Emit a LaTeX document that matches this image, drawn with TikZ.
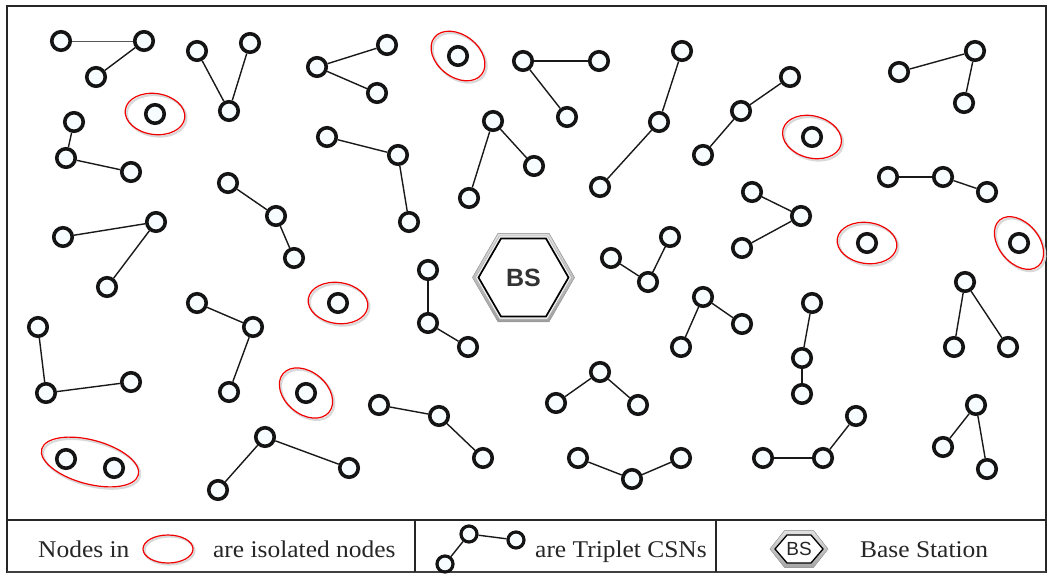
\documentclass[tikz,border=0pt]{standalone}
\usepackage{fontspec}
\setmainfont{Liberation Serif}
\newfontfamily\legfont[FakeStretch=1.06]{Liberation Serif}
\newfontfamily\bsfont{Liberation Sans}
\usetikzlibrary{shapes.geometric,calc}
\begin{document}
\begin{tikzpicture}[x=1pt,y=-1pt,
  sn/.style={circle, draw=black!92, line width=3.6pt, fill=cyan!3!white, minimum size=18.5pt, inner sep=0pt},
  snl/.style={sn, line width=3.2pt, minimum size=16pt},
  lk/.style={line width=1.4pt, black!90},
  lkthin/.style={line width=0.9pt, black!65},
  iso/.style={ellipse, draw=red!95!black, line width=1.2pt, inner sep=0pt},
  isosh/.style={ellipse, draw=black!15, line width=2.2pt, inner sep=0pt},
  legtext/.style={anchor=base west, font=\legfont\fontsize{24}{28}\selectfont, text=black!85, inner sep=0pt}
]
\useasboundingbox (0,0) rectangle (1048,575);
% frame and legend row
\draw[line width=1.1pt, black!85] (7,6) rectangle (1046,572);
\draw[line width=1.1pt, black!85] (7,520) -- (1046,520);
\draw[line width=2.6pt, black!75] (7,572) -- (1046,572);
\draw[line width=1.1pt, black!85] (415,520) -- (415,572);
\draw[line width=1.1pt, black!85] (716,520) -- (716,572);

% isolated nodes with ellipses (shadow first)
\newcommand{\isol}[6]{%
  \node[isosh, minimum width=#4, minimum height=#5, rotate=#6] at ($(#2,#3)+(1.6,1.8)$) {};
  \node[iso, minimum width=#4, minimum height=#5, rotate=#6] (e#1) at (#2,#3) {};
}
\isol{A}{155}{114}{60}{41}{-8}
\isol{B}{458}{56}{60}{42}{-38}
\isol{C}{812}{137}{60}{42}{-15}
\isol{D}{867}{243}{60}{41}{-8}
\isol{E}{1019}{243}{60}{40}{-50}
\isol{F}{338}{303}{60}{41}{-8}
\isol{G}{306}{393}{60}{42}{-40}
\isol{H}{90}{462}{100}{44}{-15}
\node[sn] (iA) at (155,114) {};
\node[sn] (iB) at (458,56) {};
\node[sn] (iC) at (812,137) {};
\node[sn] (iD) at (867,243) {};
\node[sn] (iE) at (1019,243) {};
\node[sn] (iF) at (338,303) {};
\node[sn] (iG) at (306,393) {};
\node[sn] (iH1) at (66,459) {};
\node[sn] (iH2) at (114,468) {};

% triplet CSNs: nodes a, b (hub), c; links a-b and c-b
\newcommand{\trip}[5]{%
  \node[sn] (#1a) at (#2) {};
  \node[sn] (#1b) at (#3) {};
  \node[sn] (#1c) at (#4) {};
  \draw[#5] (#1a) -- (#1b);
  \draw[lk] (#1c) -- (#1b);
}
\trip{A}{61,41}{144,41}{96,77}{lkthin}
\trip{B}{197,51}{229,111}{250,43}{lk}
\trip{C}{387,45}{317,67}{377,93}{lk}
\trip{D}{599,61}{523,61}{567,117}{lk}
\trip{E}{682,51}{659,122}{600,187}{lk}
\trip{F}{790,77}{741,111}{703,155}{lk}
\trip{G}{899,72}{975,51}{964,103}{lk}
\trip{H}{74,122}{66,158}{131,172}{lk}
\trip{I}{327,137}{398,155}{409,222}{lk}
\trip{J}{469,198}{493,121}{534,166}{lk}
\trip{K}{888,177}{943,177}{987,192}{lk}
\trip{L}{228,183}{276,216}{294,258}{lk}
\trip{M}{63,237}{156,222}{107,287}{lk}
\trip{N}{752,192}{801,216}{742,248}{lk}
\trip{O}{611,258}{648,282}{670,237}{lk}
\trip{P}{428,270}{428,323}{468,347}{lk}
\trip{Q}{197,303}{253,327}{229,392}{lk}
\trip{R}{38,327}{46,393}{131,382}{lk}
\trip{S}{681,347}{703,297}{742,324}{lk}
\trip{T}{812,303}{802,358}{802,394}{lk}
\trip{U}{954,347}{965,282}{1008,347}{lk}
\trip{V}{556,403}{600,372}{638,405}{lk}
\trip{W}{379,405}{439,416}{483,458}{lk}
\trip{X}{218,490}{265,437}{349,468}{lk}
\trip{Y}{578,458}{632,479}{681,458}{lk}
\trip{Z}{763,458}{823,458}{856,416}{lk}
\trip{AA}{943,447}{976,405}{987,469}{lk}

% base station
\coordinate (bsc) at (523.5,277.5);
\filldraw[draw=black!35, line width=0.6pt, top color=black!12, bottom color=black!38]
  ($(bsc)+(-51,0)$) -- ($(bsc)+(-25.5,-44.2)$) -- ($(bsc)+(25.5,-44.2)$) -- ($(bsc)+(51,0)$)
  -- ($(bsc)+(25.5,44.2)$) -- ($(bsc)+(-25.5,44.2)$) -- cycle;
\filldraw[draw=black!30, line width=0.6pt, fill=black!5]
  ($(bsc)+(-48,0)$) -- ($(bsc)+(-24,-41.6)$) -- ($(bsc)+(24,-41.6)$) -- ($(bsc)+(48,0)$)
  -- ($(bsc)+(24,41.6)$) -- ($(bsc)+(-24,41.6)$) -- cycle;
\filldraw[draw=black, line width=1.7pt, fill=white]
  ($(bsc)+(-45,0)$) -- ($(bsc)+(-22.5,-39)$) -- ($(bsc)+(22.5,-39)$) -- ($(bsc)+(45,0)$)
  -- ($(bsc)+(22.5,39)$) -- ($(bsc)+(-22.5,39)$) -- cycle;
\node[font=\bsfont\bfseries\fontsize{25}{28}\selectfont, text=black!80, inner sep=0pt] (BS) at (bsc) {BS};

% legend
\node[legtext] (t1) at (38,557) {Nodes in};
\node[isosh, minimum width=50, minimum height=28] at (169.5,550.5) {};
\node[iso, minimum width=50, minimum height=28] (lell) at (168,549) {};
\node[legtext] (t2) at (213,557) {are isolated nodes};

\node[snl] (la) at (445,564) {};
\node[snl] (lb) at (469,534) {};
\node[snl] (lc) at (516,540) {};
\draw[lk] (la) -- (lb);
\draw[lk] (lb) -- (lc);
\node[legtext] (t3) at (535,557) {are Triplet CSNs};

\coordinate (lbc) at (799,549);
\filldraw[draw=black!35, line width=0.5pt, top color=black!12, bottom color=black!35]
  ($(lbc)+(-29,0)$) -- ($(lbc)+(-14.5,-18.5)$) -- ($(lbc)+(14.5,-18.5)$) -- ($(lbc)+(29,0)$)
  -- ($(lbc)+(14.5,18.5)$) -- ($(lbc)+(-14.5,18.5)$) -- cycle;
\filldraw[draw=black, line width=1.3pt, fill=white]
  ($(lbc)+(-24,0)$) -- ($(lbc)+(-12,-14)$) -- ($(lbc)+(12,-14)$) -- ($(lbc)+(24,0)$)
  -- ($(lbc)+(12,14)$) -- ($(lbc)+(-12,14)$) -- cycle;
\node[font=\bsfont\fontsize{19}{22}\selectfont, text=black!85, inner sep=0pt] (lBS) at (lbc) {BS};
\node[legtext] (t4) at (860,557) {Base Station};
\end{tikzpicture}
\end{document}
